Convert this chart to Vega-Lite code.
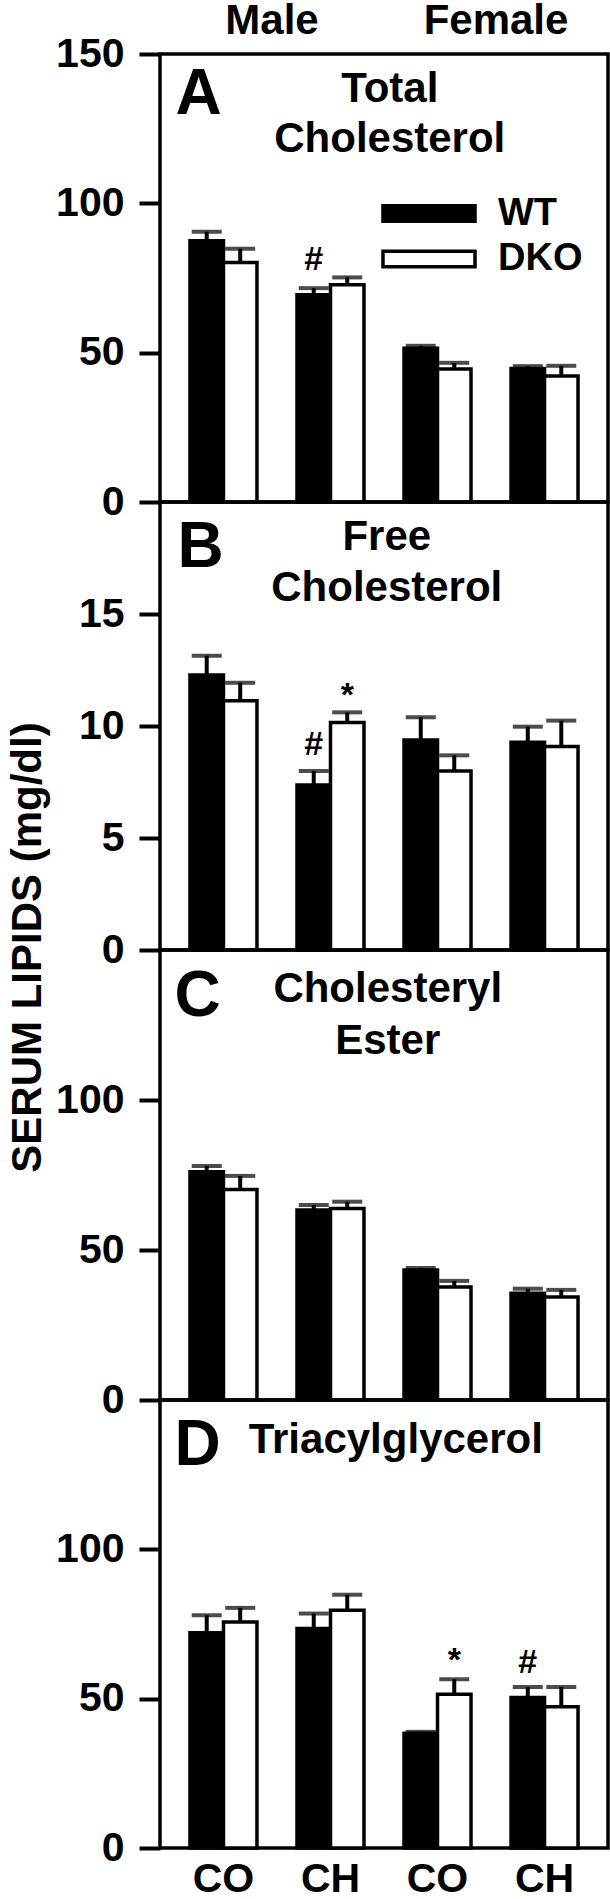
{
  "$schema": "https://vega.github.io/schema/vega-lite/v6.json",
  "padding": {"left": 4, "top": 0, "right": 0, "bottom": 0},
  "spacing": 0,
  "bounds": "flush",
  "background": "white",
  "resolve": {
    "scale": {"x": "independent", "y": "independent", "xOffset": "independent", "fill": "independent"},
    "axis": {"x": "independent", "y": "independent"},
    "legend": {"fill": "independent"}
  },
  "config": {
    "font": "Liberation Sans",
    "view": {"stroke": "black", "strokeWidth": 3.5},
    "axisY": {"domain": false, "grid": false, "ticks": true, "tickSize": 21, "tickWidth": 4, "tickColor": "black", "labelFont": "Liberation Sans", "labelFontSize": 41, "labelFontWeight": "bold", "labelColor": "black", "labelPadding": 15, "titleFont": "Liberation Sans", "titleFontSize": 42, "titleFontWeight": "bold", "titleColor": "black", "titlePadding": 6},
    "axisX": {"domain": false, "grid": false, "ticks": false, "labelFont": "Liberation Sans", "labelFontSize": 41, "labelFontWeight": "bold", "labelColor": "black", "labelPadding": 11, "labelAngle": 0},
    "text": {"fontWeight": "bold", "color": "black"},
    "tick": {"bandSize": 30}
  },
  "datasets": {
    "sexes": [{"sex": "Male"}, {"sex": "Female"}],
    "bars": [
      {"panel": "A", "grp": "M-CO", "geno": "WT", "mean": 87.5, "upper": 90.5},
      {"panel": "A", "grp": "M-CO", "geno": "DKO", "mean": 80.2, "upper": 84.8},
      {"panel": "A", "grp": "M-CH", "geno": "WT", "mean": 69.4, "upper": 71.6},
      {"panel": "A", "grp": "M-CH", "geno": "DKO", "mean": 72.7, "upper": 75.2},
      {"panel": "A", "grp": "F-CO", "geno": "WT", "mean": 51.5, "upper": 52.3},
      {"panel": "A", "grp": "F-CO", "geno": "DKO", "mean": 44.5, "upper": 46.6},
      {"panel": "A", "grp": "F-CH", "geno": "WT", "mean": 44.7, "upper": 45.5},
      {"panel": "A", "grp": "F-CH", "geno": "DKO", "mean": 42.2, "upper": 45.6},
      {"panel": "B", "grp": "M-CO", "geno": "WT", "mean": 12.28, "upper": 13.14},
      {"panel": "B", "grp": "M-CO", "geno": "DKO", "mean": 11.13, "upper": 11.93},
      {"panel": "B", "grp": "M-CH", "geno": "WT", "mean": 7.37, "upper": 7.99},
      {"panel": "B", "grp": "M-CH", "geno": "DKO", "mean": 10.16, "upper": 10.61},
      {"panel": "B", "grp": "F-CO", "geno": "WT", "mean": 9.38, "upper": 10.39},
      {"panel": "B", "grp": "F-CO", "geno": "DKO", "mean": 7.99, "upper": 8.69},
      {"panel": "B", "grp": "F-CH", "geno": "WT", "mean": 9.27, "upper": 9.97},
      {"panel": "B", "grp": "F-CH", "geno": "DKO", "mean": 9.08, "upper": 10.24},
      {"panel": "C", "grp": "M-CO", "geno": "WT", "mean": 76.1, "upper": 78.0},
      {"panel": "C", "grp": "M-CO", "geno": "DKO", "mean": 70.2, "upper": 74.7},
      {"panel": "C", "grp": "M-CH", "geno": "WT", "mean": 63.3, "upper": 65.0},
      {"panel": "C", "grp": "M-CH", "geno": "DKO", "mean": 63.8, "upper": 66.1},
      {"panel": "C", "grp": "F-CO", "geno": "WT", "mean": 43.3, "upper": 44.0},
      {"panel": "C", "grp": "F-CO", "geno": "DKO", "mean": 37.7, "upper": 39.7},
      {"panel": "C", "grp": "F-CH", "geno": "WT", "mean": 35.6, "upper": 37.1},
      {"panel": "C", "grp": "F-CH", "geno": "DKO", "mean": 34.3, "upper": 36.7},
      {"panel": "D", "grp": "M-CO", "geno": "WT", "mean": 72.1, "upper": 77.9},
      {"panel": "D", "grp": "M-CO", "geno": "DKO", "mean": 75.7, "upper": 80.4},
      {"panel": "D", "grp": "M-CH", "geno": "WT", "mean": 73.5, "upper": 78.5},
      {"panel": "D", "grp": "M-CH", "geno": "DKO", "mean": 79.6, "upper": 84.8},
      {"panel": "D", "grp": "F-CO", "geno": "WT", "mean": 38.4, "upper": 38.9},
      {"panel": "D", "grp": "F-CO", "geno": "DKO", "mean": 51.5, "upper": 56.5},
      {"panel": "D", "grp": "F-CH", "geno": "WT", "mean": 50.4, "upper": 53.9},
      {"panel": "D", "grp": "F-CH", "geno": "DKO", "mean": 47.3, "upper": 53.9}
    ],
    "notes": [
      {"panel": "A", "grp": "M-CH", "geno": "WT", "sym": "#", "pos": 77.8},
      {"panel": "B", "grp": "M-CH", "geno": "WT", "sym": "#", "pos": 8.7},
      {"panel": "B", "grp": "M-CH", "geno": "DKO", "sym": "*", "pos": 10.9},
      {"panel": "D", "grp": "F-CO", "geno": "DKO", "sym": "*", "pos": 59.2},
      {"panel": "D", "grp": "F-CH", "geno": "WT", "sym": "#", "pos": 58.5}
    ],
    "letters": [
      {"panel": "A", "grp": "M-CO", "geno": "WT", "letter": "A", "pos": 130},
      {"panel": "B", "grp": "M-CO", "geno": "WT", "letter": "B", "pos": 17.1},
      {"panel": "C", "grp": "M-CO", "geno": "WT", "letter": "C", "pos": 127.9},
      {"panel": "D", "grp": "M-CO", "geno": "WT", "letter": "D", "pos": 128.1}
    ],
    "names": [
      {"panel": "A", "grp": "F-CO", "geno": "WT", "name": "Total|Cholesterol", "pos": 133.9},
      {"panel": "B", "grp": "F-CO", "geno": "WT", "name": "Free|Cholesterol", "pos": 17.86},
      {"panel": "C", "grp": "F-CO", "geno": "WT", "name": "Cholesteryl|Ester", "pos": 132.6},
      {"panel": "D", "grp": "F-CO", "geno": "WT", "name": "Triacylglycerol", "pos": 132.4}
    ]
  },
  "vconcat": [
    {
      "width": 448, "height": 54,
      "view": {"stroke": null},
      "data": {"name": "sexes"},
      "mark": {"type": "text", "fontSize": 42, "fontWeight": "bold", "baseline": "alphabetic", "dy": 7},
      "encoding": {
        "x": {"field": "sex", "type": "nominal", "scale": {"domain": ["Male", "Female"], "paddingInner": 0, "paddingOuter": 0.042}, "axis": null},
        "text": {"field": "sex"}
      }
    },
    {
      "width": 448, "height": 448,
      "encoding": {
        "x": {"field": "grp", "type": "nominal", "scale": {"domain": ["M-CO", "M-CH", "F-CO", "F-CH"], "paddingInner": 0.374, "paddingOuter": 0.28}, "axis": null},
        "xOffset": {"field": "geno", "type": "nominal", "scale": {"domain": ["WT", "DKO"]}}
      },
      "layer": [
        {"data": {"name": "bars"}, "transform": [{"filter": "datum.panel === 'A'"}],
         "mark": {"type": "bar", "stroke": "black", "strokeWidth": 3.5},
         "encoding": {
           "y": {"field": "mean", "type": "quantitative", "scale": {"domain": [0, 150], "nice": false}, "axis": {"values": [0, 50, 100, 150], "title": null}},
           "fill": {"field": "geno", "type": "nominal", "scale": {"domain": ["WT", "DKO"], "range": ["black", "white"]},
             "legend": {"orient": "none", "legendX": 249, "legendY": 139.5, "title": null, "symbolType": "M-2.556,-0.43H2.556V0.43H-2.556Z", "symbolSize": 1296, "symbolStrokeColor": "black", "symbolStrokeWidth": 3.5, "labelFont": "Liberation Sans", "labelFontSize": 38, "labelFontWeight": "bold", "labelColor": "black", "labelOffset": 49, "rowPadding": 6.5, "padding": 0}}
         }},
        {"data": {"name": "bars"}, "transform": [{"filter": "datum.panel === 'A'"}],
         "mark": {"type": "rule", "strokeWidth": 4, "color": "black"},
         "encoding": {
           "y": {"field": "mean", "type": "quantitative", "scale": {"domain": [0, 150], "nice": false}, "axis": {"values": [0, 50, 100, 150], "title": null}},
           "y2": {"field": "upper"}
         }},
        {"data": {"name": "bars"}, "transform": [{"filter": "datum.panel === 'A'"}],
         "mark": {"type": "tick", "thickness": 4, "size": 30, "color": "black"},
         "encoding": {
           "y": {"field": "upper", "type": "quantitative", "scale": {"domain": [0, 150], "nice": false}, "axis": {"values": [0, 50, 100, 150], "title": null}}
         }},
        {"data": {"name": "notes"}, "transform": [{"filter": "datum.panel === 'A'"}],
         "mark": {"type": "text", "fontSize": 34, "baseline": "alphabetic"},
         "encoding": {
           "y": {"field": "pos", "type": "quantitative", "scale": {"domain": [0, 150], "nice": false}, "axis": {"values": [0, 50, 100, 150], "title": null}},
           "text": {"field": "sym"}
         }},
        {"data": {"name": "letters"}, "transform": [{"filter": "datum.panel === 'A'"}],
         "mark": {"type": "text", "fontSize": 64, "baseline": "alphabetic", "dx": -8},
         "encoding": {
           "y": {"field": "pos", "type": "quantitative", "scale": {"domain": [0, 150], "nice": false}, "axis": {"values": [0, 50, 100, 150], "title": null}},
           "text": {"field": "letter"}
         }},
        {"data": {"name": "names"}, "transform": [{"filter": "datum.panel === 'A'"}],
         "mark": {"type": "text", "fontSize": 42, "baseline": "alphabetic", "lineBreak": "|", "lineHeight": 50, "dx": -31},
         "encoding": {
           "y": {"field": "pos", "type": "quantitative", "scale": {"domain": [0, 150], "nice": false}, "axis": {"values": [0, 50, 100, 150], "title": null}},
           "text": {"field": "name"}
         }}
      ]
    },
    {
      "width": 448, "height": 448,
      "encoding": {
        "x": {"field": "grp", "type": "nominal", "scale": {"domain": ["M-CO", "M-CH", "F-CO", "F-CH"], "paddingInner": 0.374, "paddingOuter": 0.28}, "axis": null},
        "xOffset": {"field": "geno", "type": "nominal", "scale": {"domain": ["WT", "DKO"]}}
      },
      "layer": [
        {"data": {"name": "bars"}, "transform": [{"filter": "datum.panel === 'B'"}],
         "mark": {"type": "bar", "stroke": "black", "strokeWidth": 3.5},
         "encoding": {
           "y": {"field": "mean", "type": "quantitative", "scale": {"domain": [0, 20], "nice": false}, "axis": {"values": [0, 5, 10, 15], "title": null}},
           "fill": {"field": "geno", "type": "nominal", "scale": {"domain": ["WT", "DKO"], "range": ["black", "white"]}, "legend": null}
         }},
        {"data": {"name": "bars"}, "transform": [{"filter": "datum.panel === 'B'"}],
         "mark": {"type": "rule", "strokeWidth": 4, "color": "black"},
         "encoding": {
           "y": {"field": "mean", "type": "quantitative", "scale": {"domain": [0, 20], "nice": false}, "axis": {"values": [0, 5, 10, 15], "title": null}},
           "y2": {"field": "upper"}
         }},
        {"data": {"name": "bars"}, "transform": [{"filter": "datum.panel === 'B'"}],
         "mark": {"type": "tick", "thickness": 4, "size": 30, "color": "black"},
         "encoding": {
           "y": {"field": "upper", "type": "quantitative", "scale": {"domain": [0, 20], "nice": false}, "axis": {"values": [0, 5, 10, 15], "title": null}}
         }},
        {"data": {"name": "notes"}, "transform": [{"filter": "datum.panel === 'B'"}],
         "mark": {"type": "text", "fontSize": 34, "baseline": "alphabetic"},
         "encoding": {
           "y": {"field": "pos", "type": "quantitative", "scale": {"domain": [0, 20], "nice": false}, "axis": {"values": [0, 5, 10, 15], "title": null}},
           "text": {"field": "sym"}
         }},
        {"data": {"name": "letters"}, "transform": [{"filter": "datum.panel === 'B'"}],
         "mark": {"type": "text", "fontSize": 64, "baseline": "alphabetic", "dx": -6},
         "encoding": {
           "y": {"field": "pos", "type": "quantitative", "scale": {"domain": [0, 20], "nice": false}, "axis": {"values": [0, 5, 10, 15], "title": null}},
           "text": {"field": "letter"}
         }},
        {"data": {"name": "names"}, "transform": [{"filter": "datum.panel === 'B'"}],
         "mark": {"type": "text", "fontSize": 42, "baseline": "alphabetic", "lineBreak": "|", "lineHeight": 51, "dx": -34},
         "encoding": {
           "y": {"field": "pos", "type": "quantitative", "scale": {"domain": [0, 20], "nice": false}, "axis": {"values": [0, 5, 10, 15], "title": null}},
           "text": {"field": "name"}
         }}
      ]
    },
    {
      "width": 448, "height": 450,
      "encoding": {
        "x": {"field": "grp", "type": "nominal", "scale": {"domain": ["M-CO", "M-CH", "F-CO", "F-CH"], "paddingInner": 0.374, "paddingOuter": 0.28}, "axis": null},
        "xOffset": {"field": "geno", "type": "nominal", "scale": {"domain": ["WT", "DKO"]}}
      },
      "layer": [
        {"data": {"name": "bars"}, "transform": [{"filter": "datum.panel === 'C'"}],
         "mark": {"type": "bar", "stroke": "black", "strokeWidth": 3.5},
         "encoding": {
           "y": {"field": "mean", "type": "quantitative", "scale": {"domain": [0, 150], "nice": false}, "axis": {"values": [0, 50, 100], "title": "SERUM LIPIDS (mg/dl)", "titleY": -3}},
           "fill": {"field": "geno", "type": "nominal", "scale": {"domain": ["WT", "DKO"], "range": ["black", "white"]}, "legend": null}
         }},
        {"data": {"name": "bars"}, "transform": [{"filter": "datum.panel === 'C'"}],
         "mark": {"type": "rule", "strokeWidth": 4, "color": "black"},
         "encoding": {
           "y": {"field": "mean", "type": "quantitative", "scale": {"domain": [0, 150], "nice": false}, "axis": {"values": [0, 50, 100], "title": "SERUM LIPIDS (mg/dl)", "titleY": -3}},
           "y2": {"field": "upper"}
         }},
        {"data": {"name": "bars"}, "transform": [{"filter": "datum.panel === 'C'"}],
         "mark": {"type": "tick", "thickness": 4, "size": 30, "color": "black"},
         "encoding": {
           "y": {"field": "upper", "type": "quantitative", "scale": {"domain": [0, 150], "nice": false}, "axis": {"values": [0, 50, 100], "title": "SERUM LIPIDS (mg/dl)", "titleY": -3}}
         }},
        {"data": {"name": "letters"}, "transform": [{"filter": "datum.panel === 'C'"}],
         "mark": {"type": "text", "fontSize": 64, "baseline": "alphabetic", "dx": -9},
         "encoding": {
           "y": {"field": "pos", "type": "quantitative", "scale": {"domain": [0, 150], "nice": false}, "axis": {"values": [0, 50, 100], "title": "SERUM LIPIDS (mg/dl)", "titleY": -3}},
           "text": {"field": "letter"}
         }},
        {"data": {"name": "names"}, "transform": [{"filter": "datum.panel === 'C'"}],
         "mark": {"type": "text", "fontSize": 42, "baseline": "alphabetic", "lineBreak": "|", "lineHeight": 52, "dx": -33},
         "encoding": {
           "y": {"field": "pos", "type": "quantitative", "scale": {"domain": [0, 150], "nice": false}, "axis": {"values": [0, 50, 100], "title": "SERUM LIPIDS (mg/dl)", "titleY": -3}},
           "text": {"field": "name"}
         }}
      ]
    },
    {
      "width": 448, "height": 448,
      "encoding": {
        "x": {"field": "grp", "type": "nominal", "scale": {"domain": ["M-CO", "M-CH", "F-CO", "F-CH"], "paddingInner": 0.374, "paddingOuter": 0.28}, "axis": {"title": null, "labelExpr": "slice(datum.value, 2)"}},
        "xOffset": {"field": "geno", "type": "nominal", "scale": {"domain": ["WT", "DKO"]}}
      },
      "layer": [
        {"data": {"name": "bars"}, "transform": [{"filter": "datum.panel === 'D'"}],
         "mark": {"type": "bar", "stroke": "black", "strokeWidth": 3.5},
         "encoding": {
           "y": {"field": "mean", "type": "quantitative", "scale": {"domain": [0, 150], "nice": false}, "axis": {"values": [0, 50, 100], "title": null}},
           "fill": {"field": "geno", "type": "nominal", "scale": {"domain": ["WT", "DKO"], "range": ["black", "white"]}, "legend": null}
         }},
        {"data": {"name": "bars"}, "transform": [{"filter": "datum.panel === 'D'"}],
         "mark": {"type": "rule", "strokeWidth": 4, "color": "black"},
         "encoding": {
           "y": {"field": "mean", "type": "quantitative", "scale": {"domain": [0, 150], "nice": false}, "axis": {"values": [0, 50, 100], "title": null}},
           "y2": {"field": "upper"}
         }},
        {"data": {"name": "bars"}, "transform": [{"filter": "datum.panel === 'D'"}],
         "mark": {"type": "tick", "thickness": 4, "size": 30, "color": "black"},
         "encoding": {
           "y": {"field": "upper", "type": "quantitative", "scale": {"domain": [0, 150], "nice": false}, "axis": {"values": [0, 50, 100], "title": null}}
         }},
        {"data": {"name": "notes"}, "transform": [{"filter": "datum.panel === 'D'"}],
         "mark": {"type": "text", "fontSize": 34, "baseline": "alphabetic"},
         "encoding": {
           "y": {"field": "pos", "type": "quantitative", "scale": {"domain": [0, 150], "nice": false}, "axis": {"values": [0, 50, 100], "title": null}},
           "text": {"field": "sym"}
         }},
        {"data": {"name": "letters"}, "transform": [{"filter": "datum.panel === 'D'"}],
         "mark": {"type": "text", "fontSize": 64, "baseline": "alphabetic", "dx": -9},
         "encoding": {
           "y": {"field": "pos", "type": "quantitative", "scale": {"domain": [0, 150], "nice": false}, "axis": {"values": [0, 50, 100], "title": null}},
           "text": {"field": "letter"}
         }},
        {"data": {"name": "names"}, "transform": [{"filter": "datum.panel === 'D'"}],
         "mark": {"type": "text", "fontSize": 42, "baseline": "alphabetic", "dx": -25},
         "encoding": {
           "y": {"field": "pos", "type": "quantitative", "scale": {"domain": [0, 150], "nice": false}, "axis": {"values": [0, 50, 100], "title": null}},
           "text": {"field": "name"}
         }}
      ]
    }
  ]
}
